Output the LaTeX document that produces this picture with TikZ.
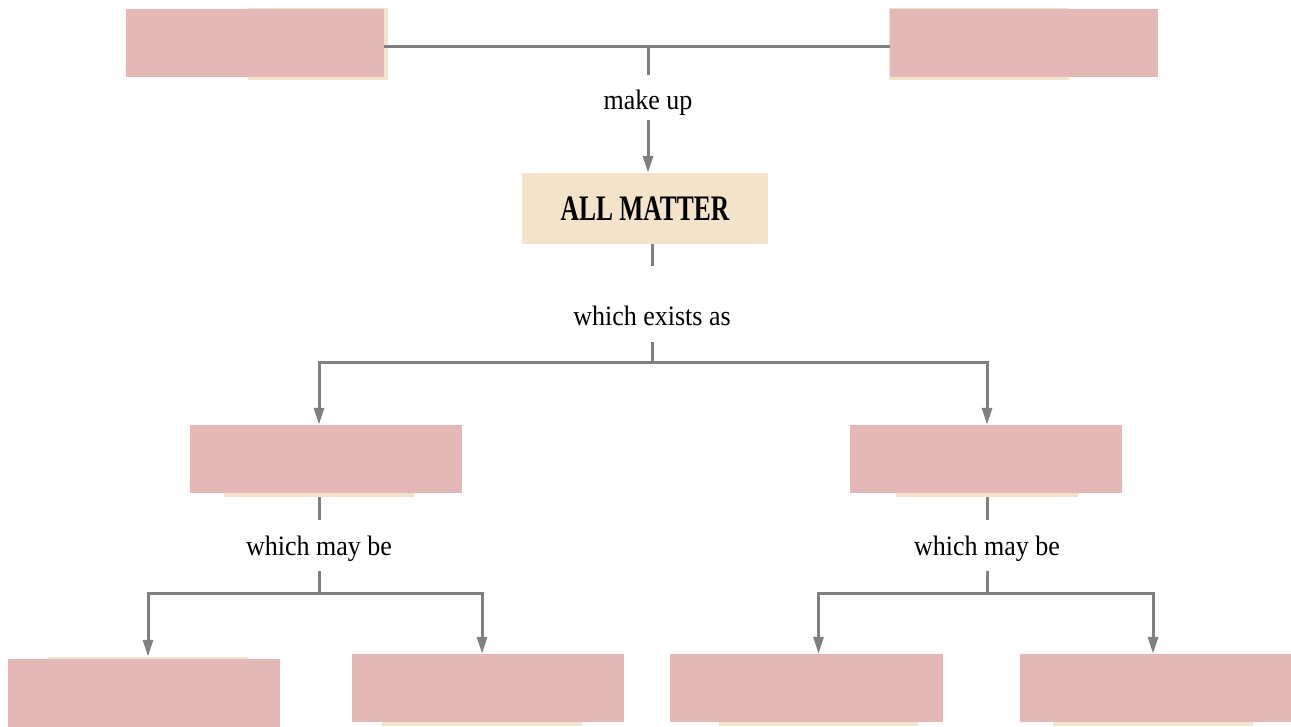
\documentclass[tikz,border=0pt]{standalone}
\usepackage{fontspec}
\setmainfont{Liberation Serif}
\usepackage{xcolor}
\usepackage{graphicx}
\usepackage{tikz}
\usetikzlibrary{arrows.meta,positioning,calc}
\definecolor{blush}{HTML}{E5B8B8}
\definecolor{sand}{HTML}{F2E3CA}
\definecolor{wire}{HTML}{808080}
\newcommand{\tallcaps}[1]{\scalebox{0.98}[1.38]{#1}}
\newcommand{\talltext}[1]{\scalebox{1}[1.08]{#1}}

\begin{document}
\begin{tikzpicture}[x=1pt, y=-1pt,
    back/.style={fill=sand, inner sep=0pt, minimum height=72pt},
    front/.style={fill=blush, inner sep=0pt, minimum height=68pt},
    core/.style={fill=sand, inner sep=0pt, minimum width=246pt, minimum height=71pt, font=\fontsize{26}{30}\selectfont\bfseries},
    lbl/.style={inner xsep=2pt, inner ysep=0pt, text height=18pt, text depth=6pt, anchor=base, font=\fontsize{26}{30}\selectfont},
    link/.style={draw=wire, line width=3pt},
    tip/.style={link, -{Triangle[length=17pt,width=10pt]}}
]
\useasboundingbox (0,0) rectangle (1291,726);
% layout boxes (sand) and the covers on top of them (blush)
\node[back, minimum width=140pt] (tl) at (318,44) {};
\node[front, minimum width=258pt] (tlcover) at (255,43) {};
\node[back, minimum width=180pt] (tr) at (979,44) {};
\node[front, minimum width=268pt] (trcover) at (1024,43) {};
\node[core] (matter) at (645,208.5) {\tallcaps{ALL MATTER}};
\node[back, minimum width=190pt] (ml) at (319,461) {};
\node[front, minimum width=272pt] (mlcover) at (326,459) {};
\node[back, minimum width=182pt] (mr) at (987,461) {};
\node[front, minimum width=272pt] (mrcover) at (986,459) {};
\node[back, minimum width=200pt] (bl) at (148,693) {};
\node[front, minimum width=272pt] (blcover) at (144,693) {};
\node[back, minimum width=200pt] (bm) at (482,690) {};
\node[front, minimum width=272pt] (bmcover) at (488,688) {};
\node[back, minimum width=199pt] (bn) at (818.5,690) {};
\node[front, minimum width=273pt] (bncover) at (806.5,688) {};
\node[back, minimum width=200pt] (br) at (1153,690) {};
\node[front, minimum width=272pt] (brcover) at (1156,688) {};
% labels
\node[lbl] (makeup) at (648,109) {\talltext{make up}};
\node[lbl] (exists) at (652,325) {\talltext{which exists as}};
\node[lbl] (maybel) at (319,555) {\talltext{which may be}};
\node[lbl] (mayber) at (987,555) {\talltext{which may be}};
\coordinate (join) at (648,46);
\coordinate (split) at (652,362);
\coordinate (splitl) at (319,593);
\coordinate (splitr) at (987,593);
% connectors
\draw[link] (tlcover.east |- join) -- (trcover.west |- join);
\draw[link, shorten >=16pt] (join) -- (makeup.north);
\draw[tip, shorten <=5pt] (makeup.south) -- (makeup.south |- matter.north);
\draw[link, shorten >=41pt] (exists.north |- matter.south) -- (exists.north);
\draw[link, shorten <=11pt] (exists.south) -- (split);
\draw[tip] (split) -| (ml.north);
\draw[tip] (split) -| (mr.north);
\draw[link, shorten >=17pt] (ml.south) -- (maybel.north);
\draw[link, shorten <=10pt] (maybel.south) -- (splitl);
\draw[tip] (splitl) -| (bl.north);
\draw[tip] (splitl) -| (bm.north);
\draw[link, shorten >=17pt] (mr.south) -- (mayber.north);
\draw[link, shorten <=10pt] (mayber.south) -- (splitr);
\draw[tip] (splitr) -| (bn.north);
\draw[tip] (splitr) -| (br.north);
\end{tikzpicture}
\end{document}
